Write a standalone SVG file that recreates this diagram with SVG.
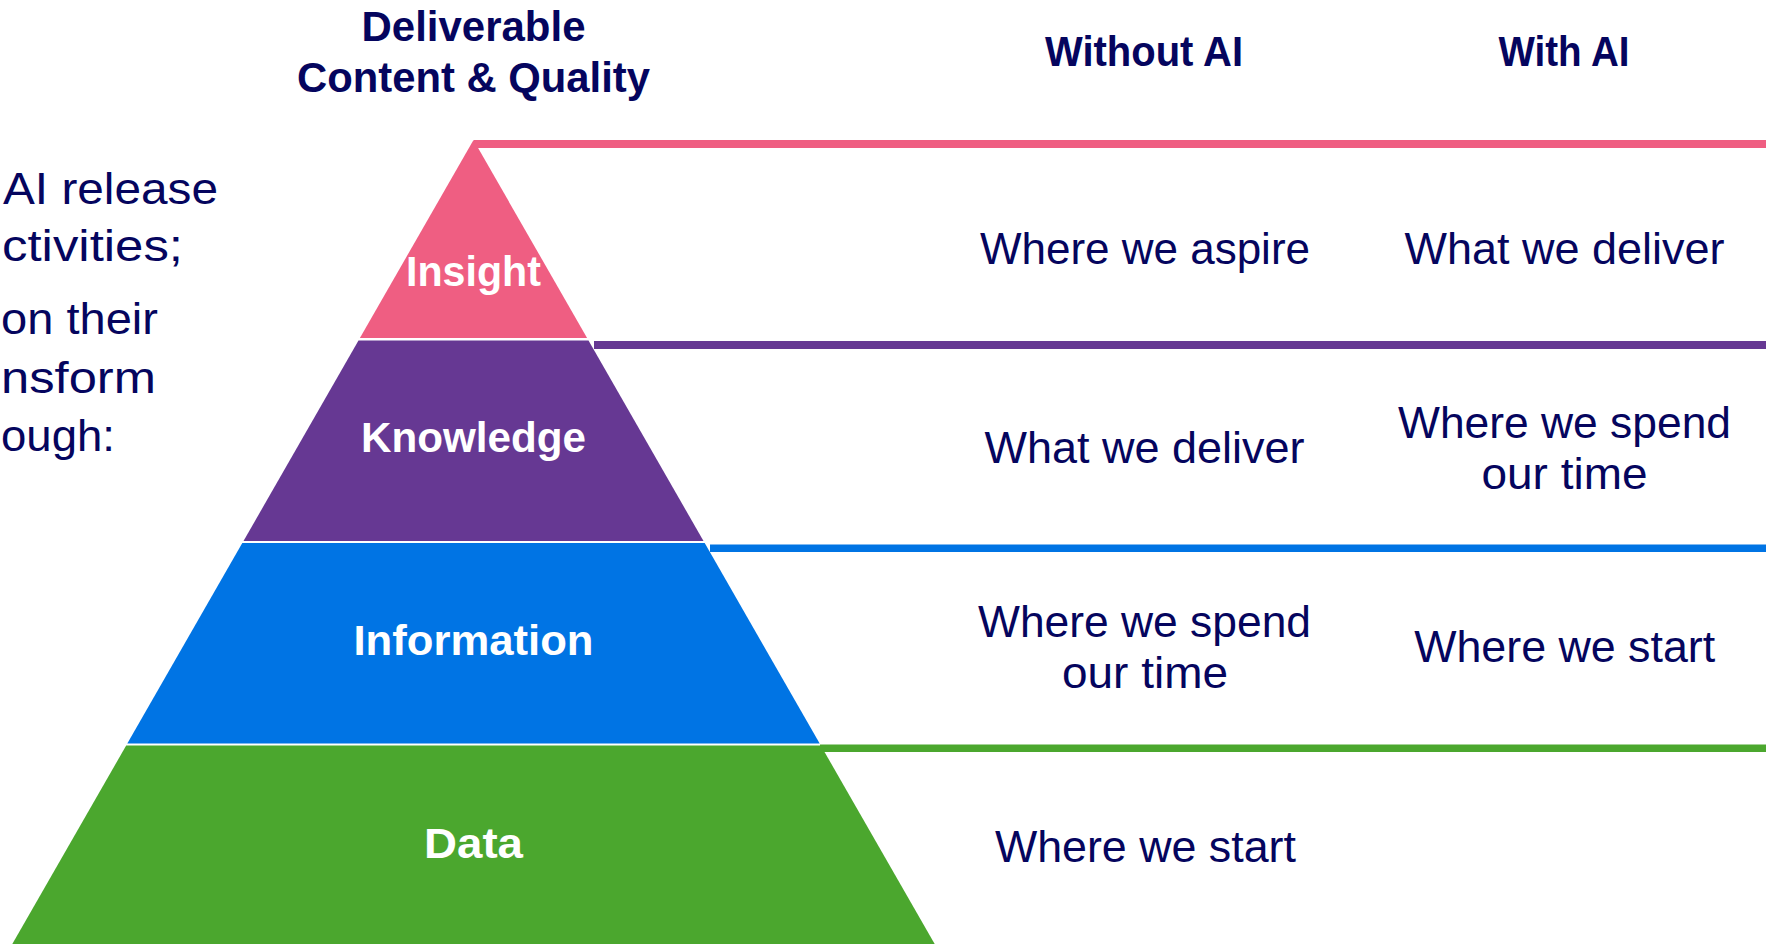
<svg xmlns="http://www.w3.org/2000/svg" width="1767" height="944" viewBox="0 0 1767 944">
<style>
.hd{font-family:"Liberation Sans",Arial,sans-serif;font-weight:700;font-size:42px;fill:#05055E;text-anchor:middle}
.bd{font-family:"Liberation Sans",Arial,sans-serif;font-weight:400;font-size:44px;fill:#05055E;text-anchor:middle}
.lt{font-family:"Liberation Sans",Arial,sans-serif;font-weight:400;font-size:44px;fill:#05055E}
.lb{font-family:"Liberation Sans",Arial,sans-serif;font-weight:700;font-size:42px;fill:#FFFFFF;text-anchor:middle}
.pink{fill:#EF5E82}.purple{fill:#663893}.blue{fill:#0074E4}.green{fill:#4BA72E}
</style>
<rect width="1767" height="944" fill="#FFFFFF"/>

<g id="intro-text">
<text class="lt" x="3" y="204" textLength="215" lengthAdjust="spacingAndGlyphs">AI release</text>
<text class="lt" x="2" y="261" textLength="181" lengthAdjust="spacingAndGlyphs">ctivities;</text>
<text class="lt" x="1" y="334" textLength="157" lengthAdjust="spacingAndGlyphs">on their</text>
<text class="lt" x="1" y="393" textLength="155" lengthAdjust="spacingAndGlyphs">nsform</text>
<text class="lt" x="1" y="451" textLength="114" lengthAdjust="spacingAndGlyphs">ough:</text>
</g>

<g id="headers">
<text class="hd" x="473.5" y="41" textLength="224" lengthAdjust="spacingAndGlyphs">Deliverable</text>
<text class="hd" x="473.5" y="92" textLength="353" lengthAdjust="spacingAndGlyphs">Content &amp; Quality</text>
<text class="hd" x="1144" y="66" textLength="198" lengthAdjust="spacingAndGlyphs">Without AI</text>
<text class="hd" x="1564" y="66" textLength="131" lengthAdjust="spacingAndGlyphs">With AI</text>
</g>

<g id="insight">
<polygon class="pink" points="473.5,140 587.1,338 359.9,338"/>
<text class="lb" x="473.5" y="286" textLength="135" lengthAdjust="spacingAndGlyphs">Insight</text>
</g>
<g id="knowledge">
<polygon class="purple" points="358.5,340.5 588.5,340.5 703.5,541 243.5,541"/>
<text class="lb" x="473.5" y="452" textLength="225" lengthAdjust="spacingAndGlyphs">Knowledge</text>
</g>
<g id="information">
<polygon class="blue" points="242.3,543 704.7,543 819.7,743.5 127.3,743.5"/>
<text class="lb" x="473.5" y="655" textLength="240" lengthAdjust="spacingAndGlyphs">Information</text>
</g>
<g id="data">
<polygon class="green" points="126.2,745.5 820.8,745.5 934.7,944 12.3,944"/>
<text class="lb" x="473.5" y="858" textLength="99" lengthAdjust="spacingAndGlyphs">Data</text>
</g>

<g id="connectors">
<rect class="pink" x="474" y="140" width="1292" height="8"/>
<rect class="purple" x="594" y="341" width="1172" height="8"/>
<rect class="blue" x="710" y="544.5" width="1056" height="7.5"/>
<rect class="green" x="820" y="744.5" width="946" height="7.5"/>
</g>

<g id="row-insight">
<text class="bd" x="1145" y="264" textLength="330" lengthAdjust="spacingAndGlyphs">Where we aspire</text>
<text class="bd" x="1564.5" y="264" textLength="320" lengthAdjust="spacingAndGlyphs">What we deliver</text>
</g>
<g id="row-knowledge">
<text class="bd" x="1144.6" y="463" textLength="320" lengthAdjust="spacingAndGlyphs">What we deliver</text>
<text class="bd" x="1564.5" y="437.5" textLength="333" lengthAdjust="spacingAndGlyphs">Where we spend</text>
<text class="bd" x="1564.5" y="488.5" textLength="166" lengthAdjust="spacingAndGlyphs">our time</text>
</g>
<g id="row-information">
<text class="bd" x="1144.5" y="637" textLength="333" lengthAdjust="spacingAndGlyphs">Where we spend</text>
<text class="bd" x="1145" y="688" textLength="166" lengthAdjust="spacingAndGlyphs">our time</text>
<text class="bd" x="1564.7" y="662" textLength="301" lengthAdjust="spacingAndGlyphs">Where we start</text>
</g>
<g id="row-data">
<text class="bd" x="1145.4" y="862" textLength="301" lengthAdjust="spacingAndGlyphs">Where we start</text>
</g>
</svg>
